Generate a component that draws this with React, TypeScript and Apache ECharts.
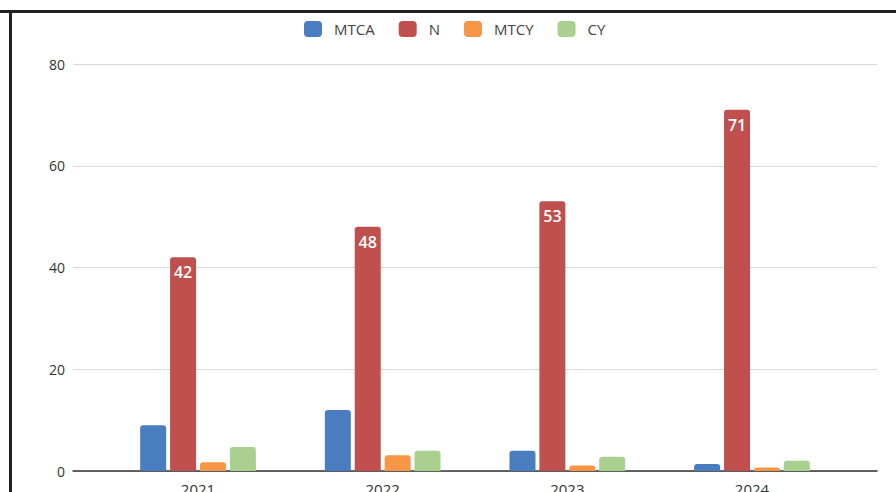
import React, { useEffect, useRef } from "react";
import * as echarts from "echarts";

const categories = ["2021", "2022", "2023", "2024"];
const seriesNames = ["MTCA", "N", "MTCY", "CY"];
const mtca = [9.0, 12.0, 4.0, 1.4];
const n = [42, 48, 53, 71];
const mtcy = [1.7, 3.1, 1.1, 0.7];
const cy = [4.7, 4.0, 2.8, 2.0];
const colors = ["#4a7cc0", "#c0504d", "#f79646", "#a9d08e"];

const FONT = "'Open Sans', 'Noto Sans', sans-serif";

export default function App() {
  const ref = useRef<HTMLDivElement>(null);
  useEffect(() => {
    if (!ref.current) return;
    const chart = echarts.init(ref.current, undefined, { renderer: "svg" });
    const values = [mtca, n, mtcy, cy];
    chart.setOption({
      animation: false,
      backgroundColor: "#ffffff",
      textStyle: { fontFamily: FONT },
      legend: {
        left: 299,
        top: 16,
        itemWidth: 18,
        itemHeight: 16,
        itemGap: 24,
        icon: "roundRect",
        data: seriesNames,
        textStyle: { fontSize: 15, color: "#444", fontFamily: FONT, padding: [0, 0, 0, 7] },
      },
      grid: [
        { left: 73, right: 19, top: 64, bottom: 21, outerBoundsMode: "none", containLabel: false },
        { left: 105.7, right: 51.7, top: 64, bottom: 21, outerBoundsMode: "none", containLabel: false },
      ],
      xAxis: [
        {
          type: "category",
          gridIndex: 0,
          data: categories,
          axisLabel: { show: false },
          axisTick: { show: false },
          axisLine: { show: true, lineStyle: { color: "#333", width: 1.5 } },
        },
        {
          type: "category",
          gridIndex: 1,
          data: categories,
          axisTick: { show: false },
          axisLine: { show: false },
          axisLabel: { fontSize: 15, color: "#333", margin: 10, fontFamily: FONT },
        },
      ],
      yAxis: [
        {
          type: "value",
          gridIndex: 0,
          min: 0,
          max: 80,
          interval: 20,
          axisLabel: { fontSize: 14, color: "#333", margin: 8, fontFamily: FONT },
          axisLine: { show: false },
          axisTick: { show: false },
          splitLine: { lineStyle: { color: "#d9d9d9", width: 1 } },
        },
        {
          type: "value",
          gridIndex: 1,
          min: 0,
          max: 80,
          interval: 20,
          show: false,
          splitLine: { show: false },
        },
      ],
      series: seriesNames.map((name, i) => ({
        name,
        type: "bar",
        xAxisIndex: 1,
        yAxisIndex: 1,
        data: values[i],
        barWidth: 26,
        barGap: "15%",
        itemStyle: { color: colors[i], borderRadius: [3, 3, 0, 0] },
        label:
          name === "N"
            ? {
                show: true,
                position: "insideTop",
                distance: 7,
                color: "#ffffff",
                fontSize: 16,
                fontWeight: 600,
                fontFamily: FONT,
              }
            : { show: false },
      })),
      graphic: [
        { type: "rect", shape: { x: 0, y: 10, width: 896, height: 3 }, style: { fill: "#222" } },
        { type: "rect", shape: { x: 9, y: 10, width: 3, height: 482 }, style: { fill: "#222" } },
      ],
    });
    return () => chart.dispose();
  }, []);
  return <div ref={ref} style={{ width: 896, height: 492, position: "absolute", left: 0, top: 0 }} />;
}
